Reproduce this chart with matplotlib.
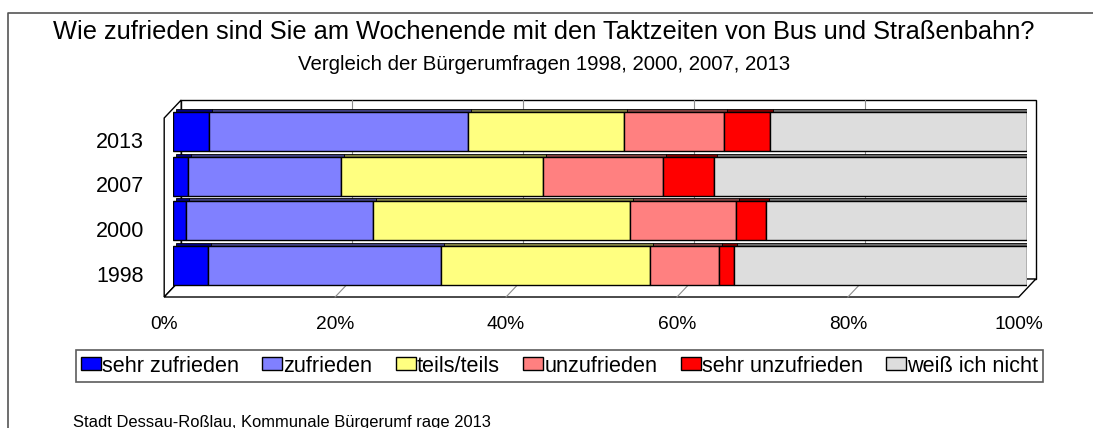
import matplotlib
matplotlib.use('Agg')
import matplotlib.pyplot as plt
from matplotlib.transforms import ScaledTranslation, blended_transform_factory
from matplotlib.patches import Polygon, Patch
from matplotlib.lines import Line2D

plt.rcParams['font.family'] = ['Liberation Sans', 'DejaVu Sans']

years = ['1998', '2000', '2007', '2013']
categories = ['sehr zufrieden', 'zufrieden', 'teils/teils', 'unzufrieden',
              'sehr unzufrieden', 'weiß ich nicht']
sehr_zufrieden = [4.1, 1.6, 1.8, 4.3]
zufrieden = [27.3, 21.8, 17.9, 30.2]
teils = [24.5, 30.1, 23.6, 18.3]
unzufrieden = [8.0, 12.4, 14.1, 11.7]
sehr_unzufrieden = [1.8, 3.5, 5.9, 5.4]
weiss_nicht = [34.3, 30.6, 36.7, 30.1]
ticks = [0, 20, 40, 60, 80, 100]
tick_labels = ['0%', '20%', '40%', '60%', '80%', '100%']

series = [sehr_zufrieden, zufrieden, teils, unzufrieden, sehr_unzufrieden, weiss_nicht]
colors = ['#0000FF', '#8080FF', '#FFFF80', '#FF8080', '#FF0000', '#DDDDDD']
shades = ['#000080', '#404080', '#808040', '#804040', '#800000', '#6E6E6E']

fig = plt.figure(figsize=(10.93, 4.28), dpi=100)
ax = fig.add_axes([0.158, 0.3271, 0.7819, 0.4182])
ax.set_xlim(0, 100)
ax.set_ylim(-0.5, 3.5)
ax.axis('off')

# depth of the fake 3d box in pixels
DX, DY = 8.5, 9.0


def px(x, y, depth):
    X, Y = ax.transAxes.transform((x, y))
    return fig.transFigure.inverted().transform((X + depth * DX, Y + depth * DY))


def off(tr, dx, dy):
    return tr + ScaledTranslation(dx / 100, dy / 100, fig.dpi_scale_trans)


# walls and floor
wall_kw = dict(transform=fig.transFigure, fc='white', ec='black', lw=1, zorder=-2)
fig.add_artist(Polygon([px(0, 0, 1), px(1, 0, 1), px(1, 1, 1), px(0, 1, 1)], **wall_kw))
fig.add_artist(Polygon([px(0, 0, -1), px(0, 1, -1), px(0, 1, 1), px(0, 0, 1)], **wall_kw))
fig.add_artist(Polygon([px(0, 0, -1), px(1, 0, -1), px(1, 0, 1), px(0, 0, 1)], **wall_kw))
for t in ticks[1:-1]:
    x = t / 100
    for a, b in [(px(x, 0, 1), px(x, 1, 1)), (px(x, 0, -1), px(x, 0, 1))]:
        fig.add_artist(Line2D([a[0], b[0]], [a[1], b[1]], transform=fig.transFigure,
                              color='#8C8C8C', lw=0.8, zorder=-1))

# stacked bars with a darker top/side face behind them
ypos = list(range(len(years)))
left = [0] * len(years)
for vals, c, s in zip(series, colors, shades):
    ax.barh(ypos, vals, left=left, height=0.87, color=s, edgecolor='black', lw=0.6,
            transform=off(ax.transData, 3, 3), zorder=2)
    ax.barh(ypos, vals, left=left, height=0.87, color=c, edgecolor='black', lw=1,
            zorder=3)
    left = [l + v for l, v in zip(left, vals)]

# axis labels on the front plane
xtr = off(blended_transform_factory(ax.transData, ax.transAxes), -DX, -DY - 32)
for t, lab in zip(ticks, tick_labels):
    ax.text(t, 0, lab, transform=xtr, ha='center', va='baseline', fontsize=13.8,
            clip_on=False)
ytr = off(blended_transform_factory(ax.transAxes, ax.transData), -28.7, -16.3)
for y, lab in zip(ypos, years):
    ax.text(0, y, lab, transform=ytr, ha='right', va='baseline', fontsize=15.5,
            clip_on=False)

fig.text(0.4977, 1 - 39 / 428,
         'Wie zufrieden sind Sie am Wochenende mit den Taktzeiten von Bus und Straßenbahn?',
         ha='center', va='baseline', fontsize=18.3)
fig.text(0.4977, 1 - 70 / 428, 'Vergleich der Bürgerumfragen 1998, 2000, 2007, 2013',
         ha='center', va='baseline', fontsize=14.7)
fig.text(73 / 1093, 1 - 426.5 / 428, 'Stadt Dessau-Roßlau, Kommunale Bürgerumf rage 2013',
         ha='left', va='baseline', fontsize=11.9)

handles = [Patch(fc=c, ec='black', lw=1) for c in colors]
leg = fig.legend(handles, categories, loc='center', bbox_to_anchor=(0.5119, 1 - 366 / 428),
                 ncol=6, fontsize=15.6, handlelength=0.92, handleheight=0.55,
                 handletextpad=0.05, columnspacing=1.08, borderpad=0.25,
                 borderaxespad=0, fancybox=False, frameon=True, edgecolor='#333333')
leg.get_frame().set_linewidth(1.2)

# outer chart border
fig.add_artist(Line2D([8.3 / 1093, 8.3 / 1093, 1], [0, 1 - 13.3 / 428, 1 - 13.3 / 428],
                      transform=fig.transFigure, color='#555555', lw=1.2))

fig.savefig('out.png', dpi=100)
